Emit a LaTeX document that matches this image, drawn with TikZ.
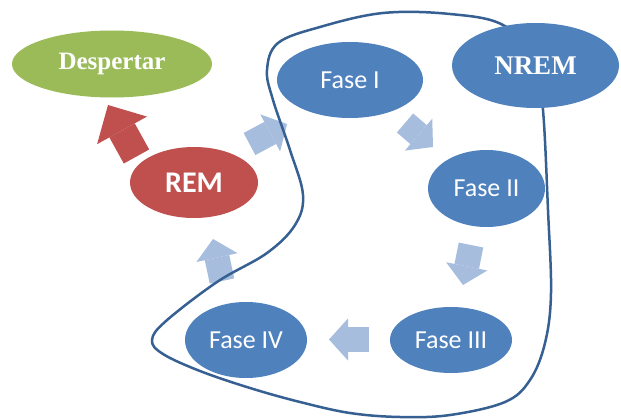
\documentclass[tikz,border=0pt]{standalone}
\usepackage{fontspec}
\setmainfont{Carlito}
\newfontfamily\serifbold{Liberation Serif}
\usetikzlibrary{arrows.meta,shapes.geometric}
\definecolor{nodeblue}{RGB}{79,129,189}
\definecolor{remred}{RGB}{192,80,77}
\definecolor{wakegreen}{RGB}{155,187,89}
\definecolor{arrowblue}{RGB}{167,189,221}
\definecolor{blobblue}{RGB}{54,96,146}
\begin{document}
\begin{tikzpicture}[x=1pt,y=-1pt,
  oval/.style={ellipse, inner sep=0pt, text=white},
  fasenode/.style={oval, fill=nodeblue, font=\fontsize{26}{28}\selectfont},
  serifnode/.style={oval, font=\serifbold\bfseries\fontsize{25}{27}\selectfont},
  blockarrow/.style={line width=25pt, color=arrowblue, -{Triangle[width=42pt,length=19pt,line width=0pt]}},
  redarrow/.style={line width=29pt, color=remred, -{Triangle[width=57pt,length=29pt,line width=0pt]}},
  blob/.style={draw=blobblue, line width=2.5pt}]
\fill[white] (0,0) rectangle (621,420);
\useasboundingbox (0,0) rectangle (621,420);

% arrow end points
\coordinate (wakeS) at (136.5,156.5);
\coordinate (wakeE) at (108,105);
\coordinate (remS) at (249.5,144);
\coordinate (remE) at (287,124);
\coordinate (f12S) at (405,123);
\coordinate (f12E) at (433,147);
\coordinate (f23S) at (471,245);
\coordinate (f23E) at (463,285);
\coordinate (f34S) at (369,339.5);
\coordinate (f34E) at (329,339.5);
\coordinate (f4rS) at (222,281);
\coordinate (f4rE) at (213,239);

\draw[redarrow] (wakeS) -- (wakeE);
\draw[blockarrow] (remS) -- (remE);
\draw[blockarrow] (f12S) -- (f12E);
\draw[blockarrow] (f23S) -- (f23E);
\draw[blockarrow] (f34S) -- (f34E);
\draw[blockarrow] (f4rS) -- (f4rE);

% outline of NREM stage group
\draw[blob] plot[smooth cycle, tension=0.6] coordinates {
  (320,27) (383,13) (450,14) (503,25) (535,60) (543,110) (548,210)
  (551,293) (545,343) (530,380) (505,402) (450,415) (400,417) (350,413)
  (300,402) (250,388) (200,371) (163,354) (152,340) (166,321) (217,282)
  (267,253) (295,225) (303,195) (290,150) (273,100) (267,70) (278,43)};

\node[serifnode, fill=wakegreen, minimum width=200pt, minimum height=67pt] (despertar) at (112,64) {Despertar};
\node[oval, fill=remred, minimum width=128pt, minimum height=71pt, font=\bfseries\fontsize{30}{32}\selectfont] (rem) at (194,182.5) {REM};
\node[fasenode, minimum width=146pt, minimum height=76pt] (f1) at (350,80) {Fase I};
\node[serifnode, fill=nodeblue, minimum width=167pt, minimum height=85pt, font=\serifbold\bfseries\fontsize{27}{29}\selectfont] (nrem) at (535.5,65.5) {NREM};
\node[fasenode, minimum width=117pt, minimum height=77pt] (f2) at (486.5,188.5) {Fase II};
\node[fasenode, minimum width=122pt, minimum height=66pt] (f3) at (451,340) {Fase III};
\node[fasenode, minimum width=122pt, minimum height=76pt] (f4) at (246,340) {Fase IV};
\end{tikzpicture}
\end{document}
